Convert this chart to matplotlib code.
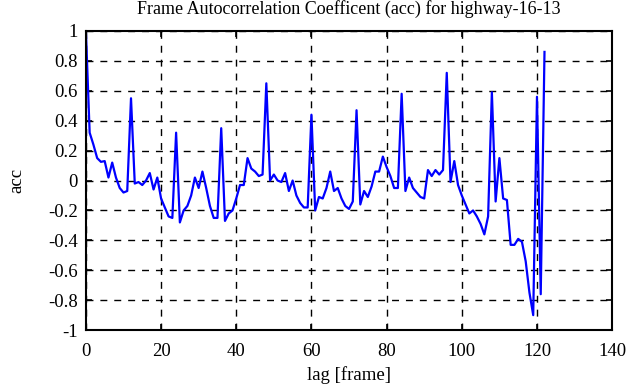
import matplotlib
matplotlib.use("Agg")
import matplotlib.pyplot as plt

# lag values (frames) and autocorrelation coefficient
lags = list(range(0, 123))
acc = [
    1.00, 0.32, 0.24, 0.15, 0.125, 0.13, 0.02, 0.12, 0.02, -0.05,
    -0.08, -0.07, 0.55, -0.02, -0.01, -0.03, 0.00, 0.05, -0.06, 0.02,
    -0.12, -0.18, -0.24, -0.25, 0.32, -0.28, -0.20, -0.17, -0.10, 0.02,
    -0.05, 0.06, -0.05, -0.17, -0.25, -0.25, 0.35, -0.27, -0.22, -0.20,
    -0.12, -0.03, -0.03, 0.15, 0.08, 0.06, 0.03, 0.04, 0.65, 0.00,
    0.04, 0.00, -0.01, 0.05, -0.07, 0.00, -0.10, -0.15, -0.18, -0.18,
    0.44, -0.20, -0.11, -0.12, -0.05, 0.06, -0.07, -0.05, -0.12, -0.17,
    -0.19, -0.14, 0.47, -0.16, -0.07, -0.11, -0.04, 0.06, 0.06, 0.16,
    0.09, 0.03, -0.05, -0.05, 0.58, -0.07, 0.02, -0.05, -0.08, -0.11,
    -0.12, 0.07, 0.03, 0.07, 0.04, 0.07, 0.72, -0.01, 0.13, -0.03,
    -0.10, -0.16, -0.22, -0.20, -0.24, -0.29, -0.36, -0.24, 0.59, -0.14,
    0.15, -0.12, -0.13, -0.43, -0.43, -0.39, -0.41, -0.54, -0.75, -0.90,
    0.56, -0.76, 0.86,
]

x_ticks = [0, 20, 40, 60, 80, 100, 120, 140]
y_ticks = [-1, -0.8, -0.6, -0.4, -0.2, 0, 0.2, 0.4, 0.6, 0.8, 1]

plt.rcParams['font.family'] = ['Liberation Serif', 'DejaVu Serif']

fig = plt.figure(figsize=(6.41, 3.87), dpi=100)
ax = fig.add_axes([0.134, 0.147, 0.821, 0.773])

ax.plot(lags, acc, color=(0, 0, 1), linewidth=1.6)

ax.set_xlim(0, 140)
ax.set_ylim(-1, 1)
ax.set_xticks(x_ticks)
ax.set_yticks(y_ticks)
ax.set_xticklabels([str(t) for t in x_ticks])
ax.set_yticklabels(["%g" % t for t in y_ticks])
ax.grid(True, color='black', linestyle=(0, (5, 5)), linewidth=1.0)
ax.tick_params(direction='in', length=4, width=1.2, labelsize=13.5,
               top=True, right=True, pad=6)
ax.tick_params(axis='x', pad=9)
for s in ax.spines.values():
    s.set_linewidth(1.5)

ax.set_title("Frame Autocorrelation Coefficent (acc) for highway-16-13", fontsize=13, pad=12)
ax.set_xlabel("lag [frame]", fontsize=13.5, labelpad=5)
ax.set_ylabel("acc", fontsize=13.5, labelpad=16)

fig.savefig("out.png", dpi=100)
